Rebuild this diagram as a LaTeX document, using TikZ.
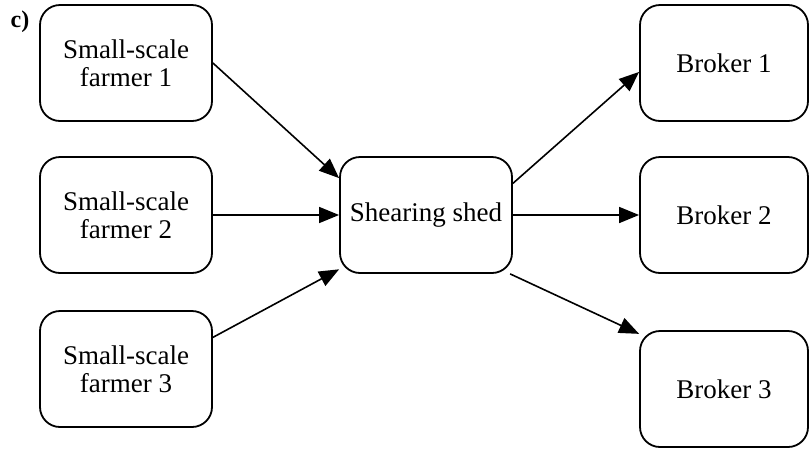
\documentclass[tikz,border=0pt]{standalone}
\usepackage{fontspec}
\setmainfont{Liberation Serif}
\usetikzlibrary{positioning, calc, arrows.meta}

\begin{document}
\begin{tikzpicture}[
  x=1pt, y=-1pt,
  every node/.style={font=\fontsize{27}{28}\selectfont}, % times-like text
  actor/.style={
    draw, rounded corners=20pt, line width=1.8pt,
    align=center, inner sep=0pt,
    minimum width=172pt, minimum height=116pt,
  },
  broker/.style={actor, minimum width=168pt},
  arrows={-{Triangle[length=20pt, width=16pt]}}, % filled tips
  every path/.style={line width=1.6pt},
]
  % page frame
  \useasboundingbox (0,0) rectangle (809,448);

  % panel label
  \node[font=\fontsize{24}{26}\selectfont\bfseries] (lbl) at (20,22) {c)};

  % farmers
  \node[actor] (f1) at (126,63) {Small-scale\\farmer 1};
  \node[actor] (f2) at (126,215) {Small-scale\\farmer 2};
  \node[actor] (f3) at (126,369) {Small-scale\\farmer 3};

  % shearing shed
  \node[actor] (shed) at (426,215) {Shearing shed};

  % brokers
  \node[broker] (b1) at (724,63) {Broker 1};
  \node[broker] (b2) at (724,215) {Broker 2};
  \node[broker] (b3) at (724,389) {Broker 3};

  % arrows farmers to shed
  \draw (f1.east) -- (shed.157);
  \draw (f2.east) -- (shed.west);
  \draw (f3.20) -- (shed.212);

  % arrows shed to brokers
  \draw (shed.20) -- (b1.186);
  \draw (shed.east) -- (b2.west);
  \draw (shed.-35) -- (b3.147);

\end{tikzpicture}
\end{document}
